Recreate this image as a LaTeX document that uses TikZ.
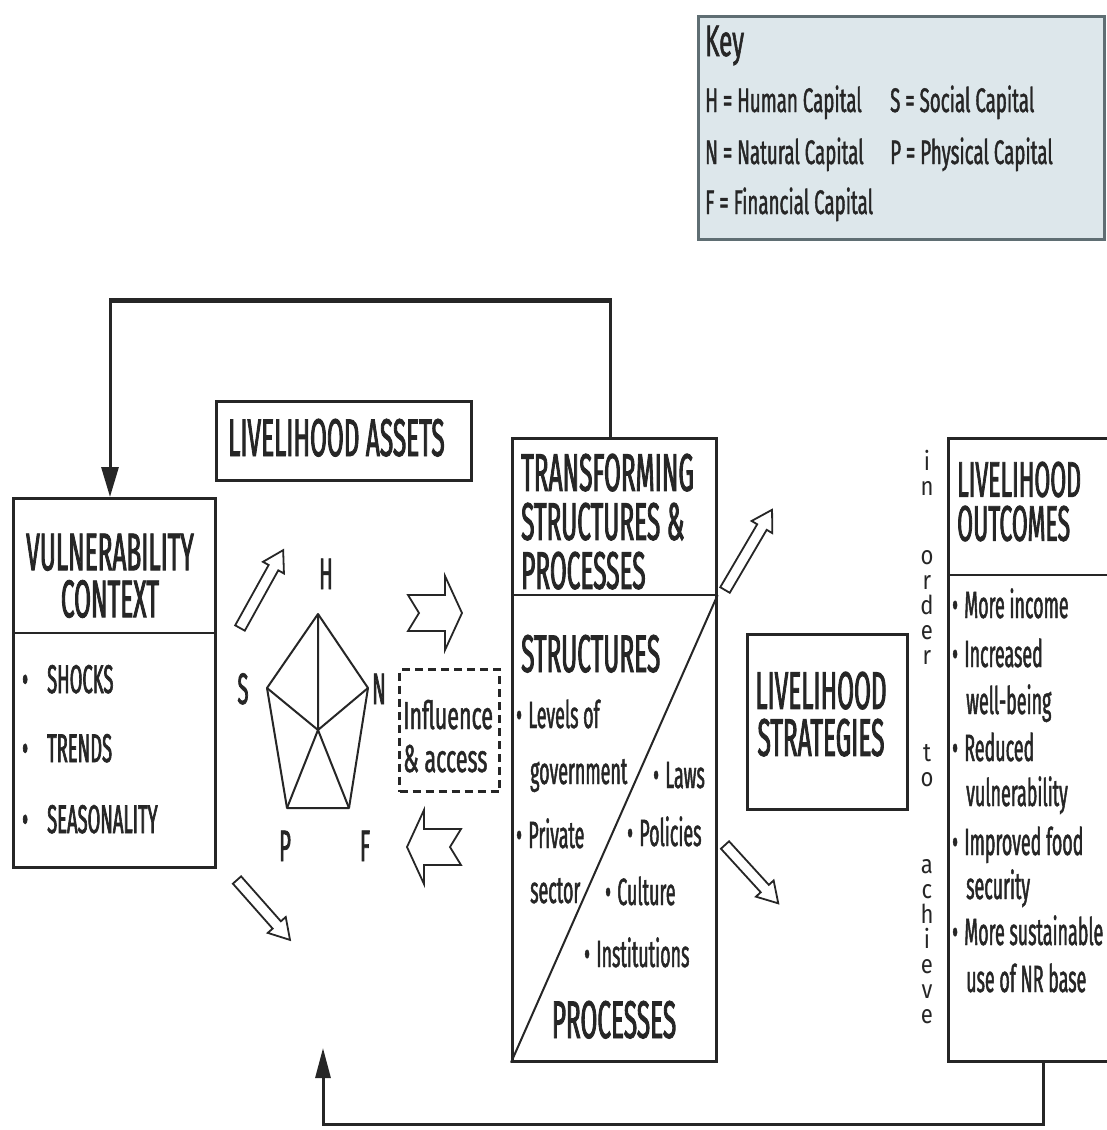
\documentclass[tikz,border=0pt]{standalone}
\usepackage{fontspec}
\setmainfont{Fira Sans}[FakeStretch=0.46,FakeBold=1.6]
\newfontfamily\kf{Fira Sans}[FakeStretch=0.55,FakeBold=1.2]
\newfontfamily\lf{Fira Sans}[FakeStretch=0.47,FakeBold=1.2]
\newfontfamily\vf{Fira Sans}[FakeStretch=0.85]
\usetikzlibrary{calc,arrows.meta}
\definecolor{ink}{HTML}{262626}
\definecolor{keyfill}{HTML}{DDE7EB}
\definecolor{keyline}{HTML}{5F6E73}
\begin{document}
\begin{tikzpicture}[x=1pt,y=-1pt,
  box/.style={draw=ink, line width=2.6pt, inner sep=0pt, anchor=north west},
  ttl/.style={font=\fontsize{53}{53}\selectfont, text=ink, inner sep=0pt},
  ttlm/.style={font=\fontsize{53}{#1}\selectfont, text=ink, inner sep=0pt},
  itm/.style={font=\fontsize{40}{40}\selectfont, text=ink, inner sep=0pt, anchor=base west},
  sm/.style={font=\lf\fontsize{38}{38}\selectfont, text=ink, inner sep=0pt, anchor=base west},
  keyt/.style={font=\kf\fontsize{34}{34}\selectfont, text=ink, inner sep=0pt, anchor=base west},
  vl/.style={font=\vf\fontsize{26}{25}\selectfont, text=ink, inner sep=0pt, align=center, anchor=north},
  fbv/.style={draw=ink, line width=3pt},
  fbh/.style={draw=ink, line width=5pt},
  pent/.style={draw=ink, line width=2pt, line join=round},
  hol/.style={draw=ink, line width=1.8pt, fill=white, line join=miter},
  pics/harrow/.style={code={\path[hol] (0,-5.5) -- (#1-20,-5.5) -- (#1-20,-12) -- (#1,0) -- (#1-20,12) -- (#1-20,5.5) -- (0,5.5) -- cycle;}},
  pics/barrow/.style={code={\path[hol] (0,-18) -- (37,-18) -- (37,-37) -- (54,0) -- (37,37) -- (37,18) -- (0,18) -- (11,0) -- cycle;}},
]
\useasboundingbox (0,0) rectangle (1106,1130);
\fill[white] (0,0) rectangle (1106,1130);

% ---------- key ----------
\node[draw=keyline, fill=keyfill, line width=3pt, minimum width=406pt, minimum height=223pt, anchor=north west, inner sep=0pt] (key) at (697,15) {};
\node[font=\kf\fontsize{44}{44}\selectfont, text=ink, inner sep=0pt, anchor=base west] (keyh) at (705,56) {Key};
\node[keyt] (k1) at (705,112) {H = Human Capital};
\node[keyt] (k2) at (705,164) {N = Natural Capital};
\node[keyt] (k3) at (705,214) {F = Financial Capital};
\node[keyt] (k4) at (890,112) {S = Social Capital};
\node[keyt] (k5) at (890,164) {P = Physical Capital};

% ---------- boxes ----------
\node[box, minimum width=202pt, minimum height=369pt] (vc) at (12,497) {};
\draw[draw=ink, line width=2.6pt] ($(vc.north west)+(0,136)$) -- ($(vc.north east)+(0,136)$);
\node[box, minimum width=255pt, minimum height=79pt] (la) at (215,400) {};
\node[box, minimum width=204pt, minimum height=623pt] (ts) at (511,437) {};
\draw[draw=ink, line width=2.6pt] ($(ts.north west)+(0,158)$) -- ($(ts.north east)+(0,158)$);
\draw[draw=ink, line width=2pt] ($(ts.north east)+(0,158)$) -- (ts.south west);
\node[box, minimum width=160pt, minimum height=175pt] (ls) at (746,633) {};
\node[box, minimum width=165pt, minimum height=623pt] (lo) at (947,437) {};
\draw[draw=ink, line width=2.6pt] ($(lo.north west)+(0,138)$) -- ($(lo.north east)+(0,138)$);

% ---------- VC text ----------
\node[ttlm=47, align=center, anchor=north] (vct) at (110,533.5) {VULNERABILITY\\CONTEXT};
\node[itm] (vc3) at (22,693) {\makebox[25pt][l]{•}SHOCKS};
\node[itm] (vc4) at (22,762) {\makebox[25pt][l]{•}TRENDS};
\node[itm] (vc5) at (22,833) {\makebox[25pt][l]{•}SEASONALITY};

% ---------- LA ----------
\node[ttl, anchor=base west] (la1) at (228,456) {LIVELIHOOD ASSETS};

% ---------- pentagon ----------
\coordinate (vH) at (318,614);
\coordinate (vS) at (267,688);
\coordinate (vN) at (368,688);
\coordinate (vP) at (287,808);
\coordinate (vF) at (349,808);
\coordinate (vC) at (318,730);
\draw[pent] (vH) -- (vN) -- (vF) -- (vP) -- (vS) -- cycle;
\draw[pent] (vH) -- (vC) (vS) -- (vC) (vN) -- (vC) (vP) -- (vC) (vF) -- (vC);
\node[itm, font=\fontsize{44}{44}\selectfont, anchor=base] (lH) at (326,589) {H};
\node[itm, font=\fontsize{44}{44}\selectfont, anchor=base] (lS) at (243,704) {S};
\node[itm, font=\fontsize{44}{44}\selectfont, anchor=base] (lN) at (379,704) {N};
\node[itm, font=\fontsize{44}{44}\selectfont, anchor=base] (lP) at (285,861) {P};
\node[itm, font=\fontsize{44}{44}\selectfont, anchor=base] (lF) at (365,861) {F};

% ---------- hollow arrows ----------
\coordinate (t1) at (240,628);
\coordinate (t2) at (237,880);
\coordinate (t3) at (725,590);
\coordinate (t4) at (725,845);
\pic[rotate=61] at (t1) {harrow=89};
\pic[rotate=-48.5] at (t2) {harrow=80};
\pic[rotate=59.6] at (t3) {harrow=93};
\pic[rotate=-47.6] at (t4) {harrow=79};
\coordinate (b1) at (408,613);
\coordinate (b2) at (461,847);
\pic at (b1) {barrow};
\pic[xscale=-1] at (b2) {barrow};

% ---------- influence & access ----------
\node[draw=ink, dash pattern=on 8pt off 5pt, line width=3pt, minimum width=100pt, minimum height=122pt, anchor=north west, inner sep=0pt] (ia) at (398,668) {};
\node[sm, font=\kf\fontsize{39}{39}\selectfont] (ia1) at (403,729) {Influence};
\node[sm, font=\kf\fontsize{39}{39}\selectfont] (ia2) at (403,772) {\& access};

% ---------- TS text ----------
\node[ttlm=49, align=left, anchor=north west] (tst) at (521,453.5) {TRANSFORMING\\STRUCTURES \&\\PROCESSES};
\node[ttl, anchor=base west] (ts4) at (521,672) {STRUCTURES};
\node[sm] (ts5) at (516,728) {•\,Levels of};
\node[sm] (ts6) at (530,784) {government};
\node[sm] (ts7) at (516,848) {•\,Private};
\node[sm] (ts8) at (530,903) {sector};
\node[sm] (ts9) at (653,788) {•\,Laws};
\node[sm] (ts10) at (627,846) {•\,Policies};
\node[sm] (ts11) at (605,905) {•\,Culture};
\node[sm] (ts12) at (584,967) {•\,Institutions};
\node[ttl, anchor=base] (ts13) at (614,1038) {PROCESSES};

% ---------- LS ----------
\node[ttlm=47, align=center, anchor=north] (lst) at (821,671.5) {LIVELIHOOD\\STRATEGIES};

% ---------- in order to achieve ----------
\node[vl] (ord) at (927,450) {i\\n\\[44pt]o\\r\\d\\e\\r\\[72pt]t\\o\\[62pt]a\\c\\h\\i\\e\\v\\e};

% ---------- LO text ----------
\node[font=\fontsize{50}{44}\selectfont, text=ink, inner sep=0pt, align=left, anchor=north west] (lot) at (957,461.5) {LIVELIHOOD\\OUTCOMES};
\node[sm] (lo3) at (952,618) {•\,More income};
\node[sm] (lo4) at (952,667) {•\,Increased};
\node[sm] (lo5) at (966,714) {well-being};
\node[sm] (lo6) at (952,761) {•\,Reduced};
\node[sm] (lo7) at (966,806) {vulnerability};
\node[sm] (lo8) at (952,855) {•\,Improved food};
\node[sm] (lo9) at (966,899) {security};
\node[sm] (lo10) at (952,945) {•\,More sustainable};
\node[sm] (lo11) at (966,992) {use of NR base};

% ---------- feedback loops ----------
\coordinate (fbA) at (110,300);
\coordinate (fbB) at (610,300);
\draw[fbv] (ts.north -| fbB) -- (fbB);
\draw[fbh] ($(fbB)+(1.5,0)$) -- ($(fbA)+(-1.5,0)$);
\draw[fbv, -{Triangle[length=30pt,width=17pt]}] (fbA) -- (vc.north -| fbA);
\coordinate (fbC) at (1043,1124);
\coordinate (fbD) at (323,1124);
\coordinate (fbE) at (323,1048);
\draw[fbv, line cap=rect] (lo.south -| fbC) -- (fbC) -- (fbD);
\draw[fbv, -{Triangle[length=30pt,width=15pt]}] (fbD) -- (fbE);
\end{tikzpicture}
\end{document}
